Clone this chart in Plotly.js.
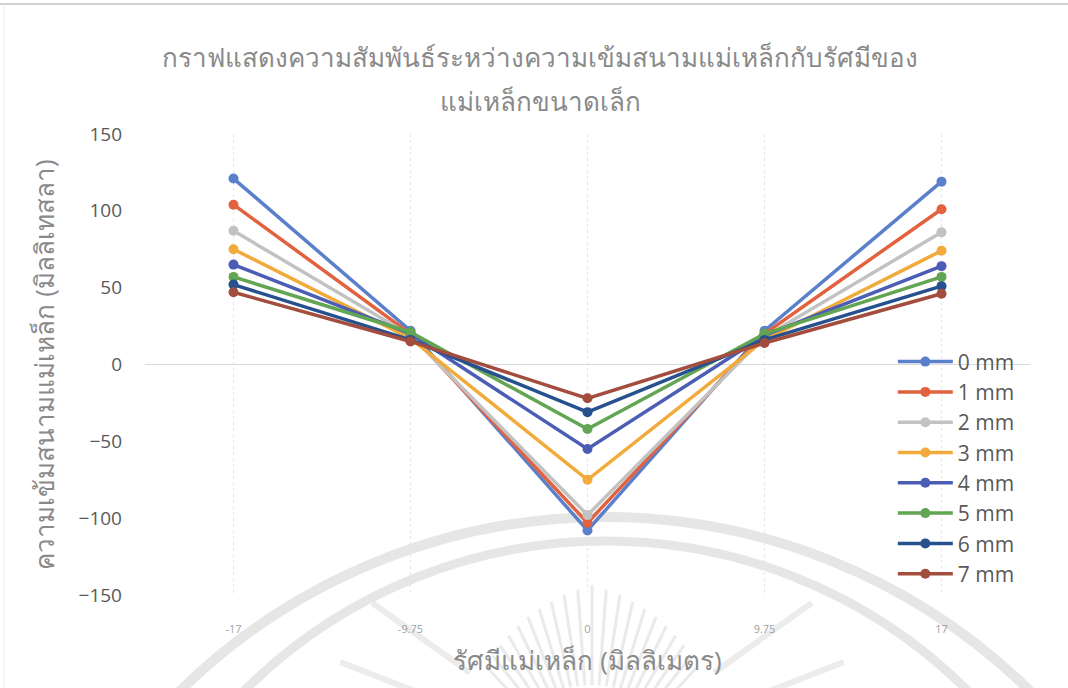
<!DOCTYPE html>
<html>
<head>
<meta charset="utf-8">
<script src="https://cdn.plot.ly/plotly-3.0.1.min.js"></script>
<style>
  html, body { margin: 0; padding: 0; background: #ffffff; }
  #chart { width: 1068px; height: 688px; }
</style>
</head>
<body>
<div id="chart"></div>
<script>
// Radius positions (mm) along the magnet, shown as categories
const radiusLabels = ['-17', '-9.75', '0', '9.75', '17'];

// Field strength (mT) for each distance from the magnet
const series0mm = [121, 22, -108, 22, 119];
const series1mm = [104, 20, -103, 20, 101];
const series2mm = [87, 19, -98, 18, 86];
const series3mm = [75, 17, -75, 16, 74];
const series4mm = [65, 20, -55, 19, 64];
const series5mm = [57, 21, -42, 20, 57];
const series6mm = [52, 16, -31, 16, 51];
const series7mm = [47, 15, -22, 14, 46];

const seriesNames = ['0 mm', '1 mm', '2 mm', '3 mm', '4 mm', '5 mm', '6 mm', '7 mm'];
const seriesValues = [series0mm, series1mm, series2mm, series3mm, series4mm, series5mm, series6mm, series7mm];
const seriesColors = ['#5b80cb', '#e2623f', '#c2c2c2', '#f2ab3b', '#4b5db4', '#62a552', '#26508e', '#a24d3d'];

const traces = seriesValues.map((vals, i) => ({
  type: 'scatter',
  mode: 'lines+markers',
  name: seriesNames[i],
  x: radiusLabels,
  y: vals,
  line: { color: seriesColors[i], width: 3.5 },
  marker: { color: seriesColors[i], size: 10 },
  hoverinfo: 'x+y+name'
}));

// Plot area in page pixels; the faint background emblem is placed from these
const L = 145, R = 1030, T = 134, B = 595;
const px = v => (v - L) / (R - L);
const py = v => (B - v) / (B - T);
const emblemColor = 'rgba(195,195,195,0.42)';
const decor = [];
// Two concentric rings of the emblem
[[605, 1123, 606, 10], [606, 1053, 512, 9]].forEach(([cx, cy, r, w]) => {
  decor.push({
    type: 'circle', xref: 'paper', yref: 'paper', layer: 'below',
    x0: px(cx - r), x1: px(cx + r), y0: py(cy + r), y1: py(cy - r),
    line: { color: emblemColor, width: w }
  });
});
// Rays of the emblem fanning out from below the axis title
for (let k = -10; k <= 10; k++) {
  const a = k * 0.075;
  const r0 = 95, r1 = 195 - Math.abs(k) * 4;
  const ox = 592, oy = 780;
  decor.push({
    type: 'line', xref: 'paper', yref: 'paper', layer: 'below',
    x0: px(ox + Math.sin(a) * r0), x1: px(ox + Math.sin(a) * r1),
    y0: py(oy - Math.cos(a) * r0), y1: py(oy - Math.cos(a) * r1),
    line: { color: 'rgba(195,195,195,0.35)', width: 3 }
  });
}
// Feather strokes on each side of the rays
[[-1, 0.95], [-1, 1.2], [1, 0.95], [1, 1.2]].forEach(([s, a]) => {
  const ox = 592, oy = 760;
  decor.push({
    type: 'line', xref: 'paper', yref: 'paper', layer: 'below',
    x0: px(ox + s * Math.sin(a) * 150), x1: px(ox + s * Math.sin(a) * 270),
    y0: py(oy - Math.cos(a) * 150), y1: py(oy - Math.cos(a) * 270),
    line: { color: 'rgba(195,195,195,0.32)', width: 6 }
  });
});
// Page edges
decor.push({ type: 'line', xref: 'paper', yref: 'paper', layer: 'below',
  x0: px(0), x1: px(1068), y0: py(4), y1: py(4), line: { color: '#d0d0d0', width: 2 } });
decor.push({ type: 'line', xref: 'paper', yref: 'paper', layer: 'below',
  x0: px(4), x1: px(4), y0: py(4), y1: py(688), line: { color: '#ececec', width: 1 } });

const titleFont = { size: 26, color: '#8a8a8a' };

const layout = {
  width: 1068,
  height: 688,
  paper_bgcolor: '#ffffff',
  plot_bgcolor: 'rgba(0,0,0,0)',
  margin: { l: L, r: 1068 - R, t: T, b: 688 - B },
  font: { family: 'Open Sans, Noto Sans, sans-serif', color: '#595959' },
  title: {
    text: 'กราฟแสดงความสัมพันธ์ระหว่างความเข้มสนามแม่เหล็กกับรัศมีของ',
    font: titleFont,
    xref: 'container',
    x: 540 / 1068, xanchor: 'center',
    yref: 'container',
    y: 1 - 58 / 688, yanchor: 'middle'
  },
  annotations: [{
    text: 'แม่เหล็กขนาดเล็ก',
    font: titleFont,
    xref: 'paper', yref: 'paper',
    x: px(540), xanchor: 'center',
    y: py(101), yanchor: 'middle',
    showarrow: false
  }],
  xaxis: {
    type: 'category',
    range: [-0.5, 4.5],
    showgrid: true,
    gridcolor: '#e6e6e6',
    griddash: 'dot',
    gridwidth: 1,
    zeroline: false,
    showline: false,
    ticks: '',
    tickfont: { size: 11, color: '#a0a0a0' },
    ticklabelstandoff: 26,
    title: {
      text: 'รัศมีแม่เหล็ก (มิลลิเมตร)',
      font: { size: 26, color: '#8a8a8a' },
      standoff: 16
    }
  },
  yaxis: {
    range: [-150, 150],
    tickvals: [-150, -100, -50, 0, 50, 100, 150],
    showgrid: false,
    zeroline: true,
    zerolinecolor: '#d9d9d9',
    zerolinewidth: 1,
    showline: false,
    ticks: '',
    tickfont: { size: 19, color: '#595959' },
    ticklabelstandoff: 22,
    title: {
      text: 'ความเข้มสนามแม่เหล็ก (มิลลิเทสลา)',
      font: { size: 26, color: '#8a8a8a' },
      standoff: 16
    }
  },
  legend: {
    x: 0.845, xanchor: 'left',
    y: 0.55, yanchor: 'top',
    bgcolor: 'rgba(255,255,255,0)',
    font: { size: 21, color: '#595959' },
    itemwidth: 55,
    tracegroupgap: 0
  },
  shapes: decor,
  showlegend: true
};

Plotly.newPlot('chart', traces, layout, { displayModeBar: false, staticPlot: true });
</script>
</body>
</html>
